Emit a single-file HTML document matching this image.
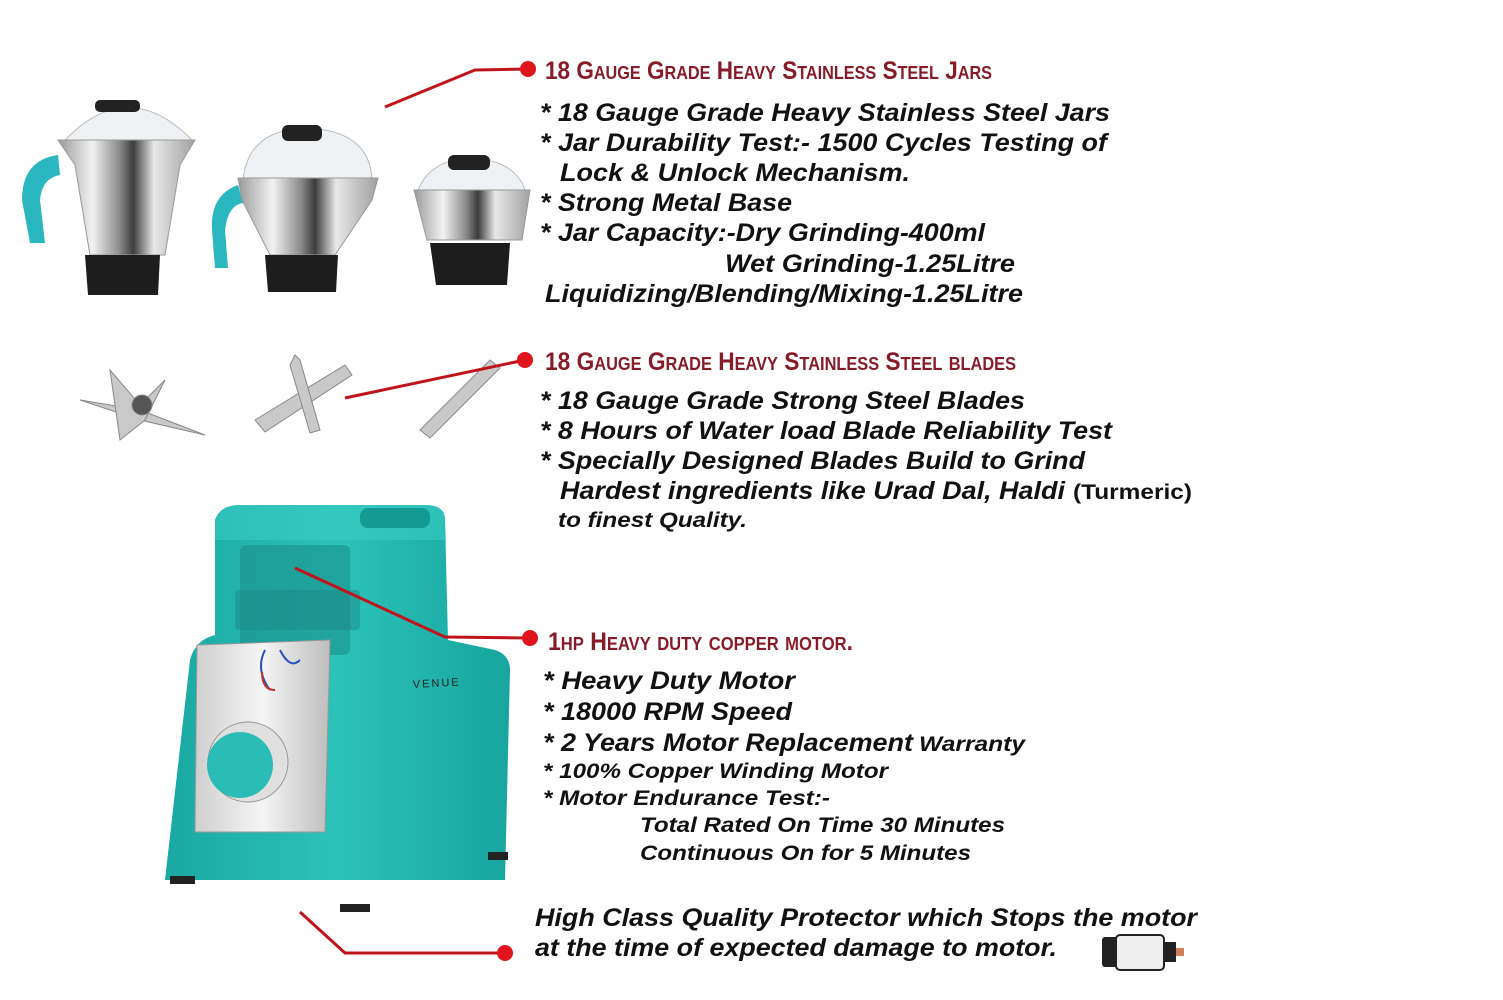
<!DOCTYPE html>
<html><head><meta charset="utf-8"><style>
html,body{margin:0;padding:0;background:#fff;}
svg{display:block;}
.b{font-family:"Liberation Sans",Arial,sans-serif;font-weight:bold;font-style:italic;fill:#111;font-size:25px;}
.s{font-size:21px;}
.h{font-family:"Liberation Sans",Arial,sans-serif;font-variant:small-caps;fill:#861c28;font-size:25px;font-weight:bold;}
</style></head><body>
<svg width="1503" height="1000" viewBox="0 0 1503 1000" xmlns="http://www.w3.org/2000/svg">
<defs>
<linearGradient id="st" x1="0" x2="1" y1="0" y2="0">
<stop offset="0" stop-color="#9a9a9a"/><stop offset="0.25" stop-color="#f2f2f2"/><stop offset="0.45" stop-color="#8a8a8a"/><stop offset="0.55" stop-color="#3c3c3c"/><stop offset="0.7" stop-color="#e8e8e8"/><stop offset="1" stop-color="#a0a0a0"/>
</linearGradient>
<linearGradient id="tl" x1="0" x2="1" y1="0" y2="0">
<stop offset="0" stop-color="#1aa8a2"/><stop offset="0.5" stop-color="#2cc2ba"/><stop offset="1" stop-color="#17a59e"/>
</linearGradient>
<linearGradient id="pn" x1="0" x2="1"><stop offset="0" stop-color="#cfcfcf"/><stop offset="0.5" stop-color="#f5f5f5"/><stop offset="1" stop-color="#bdbdbd"/></linearGradient>
</defs>

<!-- Jar 1 -->
<path d="M58 155 Q22 160 22 200 L30 243 L45 243 L40 200 Q42 178 60 175 Z" fill="#2bb7c0"/>
<path d="M65 140 Q128 75 192 140 Z" fill="#eef2f4" stroke="#bbb"/>
<rect x="95" y="100" width="45" height="12" rx="5" fill="#222"/>
<path d="M58 140 L195 140 L180 165 L165 255 L90 255 L75 165 Z" fill="url(#st)" stroke="#999"/>
<path d="M85 255 L160 255 L158 295 L88 295 Z" fill="#1d1d1d"/>
<!-- Jar 2 -->
<path d="M238 185 Q210 195 212 230 L215 268 L228 268 L225 230 Q228 205 243 203 Z" fill="#2bb7c0"/>
<path d="M243 180 Q248 130 305 128 Q370 130 372 180 Z" fill="#eef2f4" stroke="#bbb"/>
<rect x="282" y="125" width="40" height="16" rx="6" fill="#222"/>
<path d="M238 178 L378 178 L372 200 L335 255 L270 255 L242 200 Z" fill="url(#st)" stroke="#999"/>
<path d="M265 255 L338 255 L336 292 L268 292 Z" fill="#1d1d1d"/>
<!-- Jar 3 -->
<path d="M418 190 Q430 160 470 158 Q515 160 525 190 Z" fill="#eef2f4" stroke="#bbb"/>
<rect x="448" y="155" width="42" height="15" rx="6" fill="#222"/>
<path d="M414 190 L530 190 L522 240 L427 240 Z" fill="url(#st)" stroke="#999"/>
<path d="M430 243 L510 243 L507 285 L436 285 Z" fill="#1d1d1d"/>

<!-- Blades -->
<g fill="#c9c9c9" stroke="#888">
<path d="M80 400 L140 410 L205 435 L140 420 Z"/>
<path d="M110 370 L140 405 L165 380 L145 420 L120 440 Z"/>
<circle cx="142" cy="405" r="10" fill="#555"/>
<path d="M255 420 L345 365 L352 375 L265 432 Z"/>
<path d="M295 355 L300 360 L320 430 L310 433 L290 365 Z"/>
<path d="M420 430 L490 360 L500 368 L430 438 Z"/>
</g>

<!-- Blender -->
<path d="M215 520 Q220 505 240 505 L425 505 Q445 505 445 520 L448 640 L495 650 Q510 655 510 670 L505 880 L165 880 L190 660 Q195 640 215 635 Z" fill="url(#tl)"/>
<path d="M215 520 Q220 505 240 505 L425 505 Q445 505 445 520 L446 540 L215 540 Z" fill="#38cbc3" opacity="0.6"/>
<rect x="360" y="508" width="70" height="20" rx="8" fill="#139a93"/>
<rect x="240" y="545" width="110" height="110" rx="6" fill="#1a8f8c" opacity="0.6"/>
<rect x="235" y="590" width="125" height="40" rx="4" fill="#1a8a88" opacity="0.5"/>
<path d="M197 645 L330 640 L325 832 L195 832 Z" fill="url(#pn)" stroke="#999"/>
<path d="M265 650 Q255 670 270 690 M280 650 Q290 670 300 660" stroke="#2a4fc0" stroke-width="2" fill="none"/>
<path d="M262 672 Q262 690 275 690" stroke="#c03030" stroke-width="2" fill="none"/>
<circle cx="248" cy="762" r="40" fill="#e0e0e0" stroke="#999"/>
<circle cx="240" cy="765" r="33" fill="#2bbdb5"/>
<text x="413" y="688" font-family="Liberation Sans" font-size="11" letter-spacing="2" fill="#222" transform="rotate(-3 413 688)">VENUE</text>
<rect x="170" y="876" width="25" height="8" fill="#222"/>
<rect x="340" y="904" width="30" height="8" fill="#222"/>
<rect x="488" y="852" width="20" height="8" fill="#222"/>

<!-- Protector -->
<rect x="1102" y="937" width="20" height="30" rx="3" fill="#222"/>
<rect x="1116" y="935" width="48" height="35" rx="4" fill="#eee" stroke="#222" stroke-width="2"/>
<rect x="1164" y="942" width="12" height="20" fill="#222"/>
<rect x="1176" y="948" width="8" height="8" fill="#d08060"/>

<!-- Connectors -->
<g stroke="#c0141c" stroke-width="3" fill="none">
<polyline points="385,107 475,70 528,69"/>
<line x1="345" y1="398" x2="525" y2="360"/>
<polyline points="295,568 445,637 530,638"/>
<polyline points="300,912 345,953 505,953"/>
</g>
<g fill="#e0141c">
<circle cx="528" cy="69" r="8"/><circle cx="525" cy="360" r="8"/><circle cx="530" cy="638" r="8"/><circle cx="505" cy="953" r="8"/>
</g>

<!-- Headers -->
<text class="h" x="545" y="79" textLength="447" lengthAdjust="spacingAndGlyphs">18 Gauge Grade Heavy Stainless Steel Jars</text>
<text class="h" x="545" y="370" textLength="471" lengthAdjust="spacingAndGlyphs">18 Gauge Grade Heavy Stainless Steel blades</text>
<text class="h" x="548" y="650" textLength="305" lengthAdjust="spacingAndGlyphs">1hp Heavy duty copper motor.</text>

<!-- Bullets -->
<g class="b">
<text x="540" y="121" textLength="570" lengthAdjust="spacingAndGlyphs">* 18 Gauge Grade Heavy Stainless Steel Jars</text>
<text x="540" y="151" textLength="567" lengthAdjust="spacingAndGlyphs">* Jar Durability Test:- 1500 Cycles Testing of</text>
<text x="560" y="181" textLength="350" lengthAdjust="spacingAndGlyphs">Lock &amp; Unlock Mechanism.</text>
<text x="540" y="211" textLength="252" lengthAdjust="spacingAndGlyphs">* Strong Metal Base</text>
<text x="540" y="241" textLength="445" lengthAdjust="spacingAndGlyphs">* Jar Capacity:-Dry Grinding-400ml</text>
<text x="725" y="272" textLength="290" lengthAdjust="spacingAndGlyphs">Wet Grinding-1.25Litre</text>
<text x="545" y="302" textLength="478" lengthAdjust="spacingAndGlyphs">Liquidizing/Blending/Mixing-1.25Litre</text>
<text x="540" y="409" textLength="485" lengthAdjust="spacingAndGlyphs">* 18 Gauge Grade Strong Steel Blades</text>
<text x="540" y="439" textLength="572" lengthAdjust="spacingAndGlyphs">* 8 Hours of Water load Blade Reliability Test</text>
<text x="540" y="469" textLength="545" lengthAdjust="spacingAndGlyphs">* Specially Designed Blades Build to Grind</text>
<text x="560" y="499" textLength="505" lengthAdjust="spacingAndGlyphs">Hardest ingredients like Urad Dal, Haldi</text>
<text class="s" x="1073" y="499" textLength="119" lengthAdjust="spacingAndGlyphs" font-style="normal">(Turmeric)</text>
<text class="s" x="558" y="527" textLength="189" lengthAdjust="spacingAndGlyphs">to finest Quality.</text>
<text x="543" y="689" textLength="252" lengthAdjust="spacingAndGlyphs">* Heavy Duty Motor</text>
<text x="543" y="720" textLength="249" lengthAdjust="spacingAndGlyphs">* 18000 RPM Speed</text>
<text x="543" y="751" textLength="370" lengthAdjust="spacingAndGlyphs">* 2 Years Motor Replacement</text>
<text class="s" x="919" y="751" textLength="106" lengthAdjust="spacingAndGlyphs">Warranty</text>
<text class="s" x="543" y="778" textLength="345" lengthAdjust="spacingAndGlyphs">* 100% Copper Winding Motor</text>
<text class="s" x="543" y="805" textLength="287" lengthAdjust="spacingAndGlyphs">* Motor Endurance Test:-</text>
<text class="s" x="640" y="832" textLength="365" lengthAdjust="spacingAndGlyphs">Total Rated On Time 30 Minutes</text>
<text class="s" x="640" y="860" textLength="331" lengthAdjust="spacingAndGlyphs">Continuous On for 5 Minutes</text>
<text x="535" y="926" textLength="662" lengthAdjust="spacingAndGlyphs">High Class Quality Protector which Stops the motor</text>
<text x="535" y="956" textLength="522" lengthAdjust="spacingAndGlyphs">at the time of expected damage to motor.</text>
</g>
</svg>
</body></html>
